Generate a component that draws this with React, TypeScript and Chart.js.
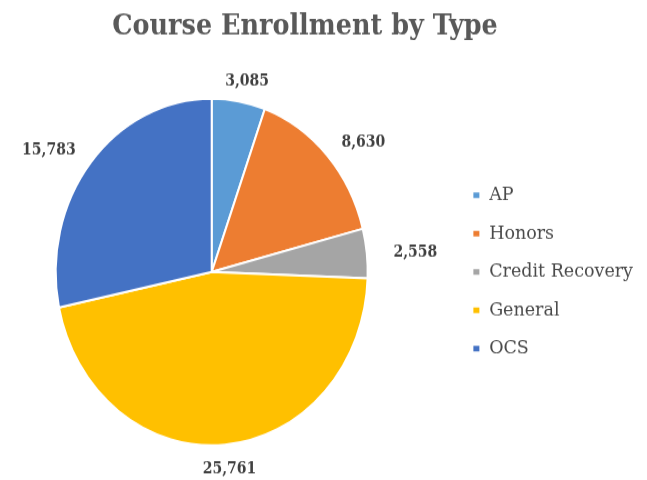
import React, { useEffect, useRef } from "react";
import { Chart, registerables, layouts } from "chart.js";

Chart.register(...registerables);

const categories = ["AP", "Honors", "Credit Recovery", "General", "OCS"];
const enrollment = [3085, 8630, 2558, 25761, 15783];
const valueLabels = ["3,085", "8,630", "2,558", "25,761", "15,783"];
const sliceColors = ["#5B9BD5", "#ED7D31", "#A5A5A5", "#FFC000", "#4472C4"];

const SERIF = '"DejaVu Serif", "Liberation Serif", serif';
const LEGEND_GAP = 32;

const outsideLabels = {
  id: "outsideLabels",
  afterDatasetsDraw(chart: any) {
    const { ctx } = chart;
    const meta = chart.getDatasetMeta(0);
    ctx.save();
    ctx.font = `bold 14px ${SERIF}`;
    ctx.fillStyle = "#404040";
    ctx.textAlign = "center";
    ctx.textBaseline = "middle";
    meta.data.forEach((arc: any, i: number) => {
      const p = arc.getProps(["x", "y", "startAngle", "endAngle", "outerRadius"], true);
      const mid = (p.startAngle + p.endAngle) / 2;
      const cx = Math.cos(mid);
      const cy = Math.sin(mid);
      const text = valueLabels[i];
      const w = ctx.measureText(text).width;
      const h = 14;
      const x = p.x + cx * (p.outerRadius + 27 + w / 2);
      const y = p.y + cy * (p.outerRadius + 13 + h / 2) + 2;
      ctx.fillText(text, x, y);
    });
    ctx.restore();
  },
};

// empty layout box between the pie and the legend
const legendGap = {
  id: "legendGap",
  beforeInit(chart: any) {
    const box: any = {
      position: "right",
      weight: 500,
      fullSize: false,
      options: { stackWeight: 1 },
      width: 0,
      height: 0,
      left: 0,
      top: 0,
      right: 0,
      bottom: 0,
      isHorizontal() {
        return false;
      },
      update(_w: number, h: number) {
        this.width = LEGEND_GAP;
        this.height = h;
      },
      getPadding() {
        return { left: 0, top: 0, right: 0, bottom: 0 };
      },
      draw() {},
    };
    layouts.addBox(chart, box);
  },
};

export default function App() {
  const ref = useRef<HTMLCanvasElement | null>(null);

  useEffect(() => {
    document.body.style.margin = "0";
    if (!ref.current) return;
    const chart = new Chart(ref.current, {
      type: "pie",
      data: {
        labels: categories,
        datasets: [
          {
            data: enrollment,
            backgroundColor: sliceColors,
            borderColor: "#ffffff",
            borderWidth: 2,
            radius: 156,
          } as any,
        ],
      },
      options: {
        responsive: false,
        animation: false,
        layout: { padding: { left: -33, right: 4, top: 0, bottom: 0 } },
        plugins: {
          title: {
            display: true,
            text: "Course Enrollment by Type",
            color: "#595959",
            font: { family: SERIF, size: 25.5, weight: "bold" },
            padding: { top: 9, bottom: 18 },
          },
          legend: {
            position: "right",
            fullSize: false,
            maxWidth: 260,
            labels: {
              boxWidth: 8,
              boxHeight: 7,
              padding: 17,
              color: "#4a4a4a",
              font: { family: SERIF, size: 17.5 },
            },
          },
          tooltip: { enabled: false },
        },
      },
      plugins: [outsideLabels, legendGap],
    });
    return () => chart.destroy();
  }, []);

  return (
    <div style={{ width: 647, height: 480, background: "#ffffff" }}>
      <canvas
        ref={ref}
        width={647}
        height={432}
        style={{ width: "647px", height: "480px", display: "block" }}
      />
    </div>
  );
}
